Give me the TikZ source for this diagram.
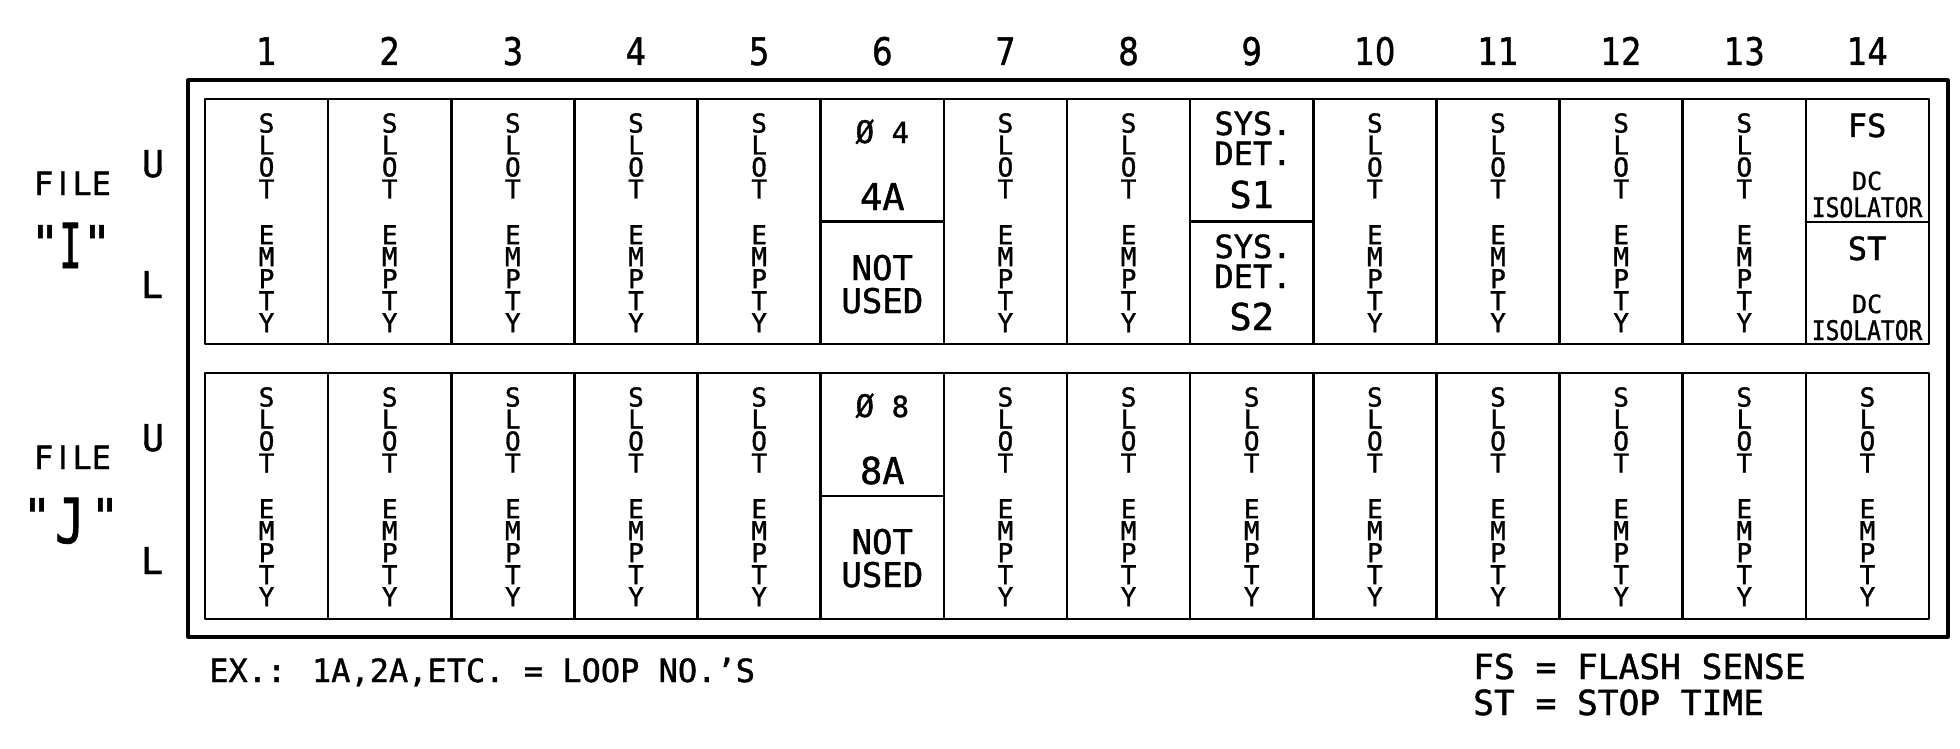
\documentclass[tikz,border=0pt]{standalone}
\usepackage{fontspec}
\setmainfont{DejaVu Sans Mono}[RawFeature={embolden=1.2}]
\newfontfamily\numfont{DejaVu Sans}[RawFeature={embolden=1.2}]
\newfontfamily\qfont{DejaVu Sans Mono}[Ligatures=TeXOff,RawFeature={embolden=1.2}]
\newcommand\sansI{\makebox[0.602em]{\numfont I}}
\begin{document}
\begin{tikzpicture}[x=1pt,y=-1pt,
  frame/.style={line width=3.2pt,line join=round},
  panel/.style={line width=2.8pt,line join=round},
  divider/.style={line width=2.6pt},
  lbl/.style={inner sep=0pt,anchor=base},
  vword/.style={inner sep=0pt,anchor=north,align=center,font=\fontsize{26}{22}\selectfont},
  colnum/.style={lbl,font=\numfont\fontsize{38}{38}\selectfont},
  side/.style={lbl,font=\fontsize{37}{37}\selectfont},
  filetxt/.style={lbl,font=\fontsize{32}{32}\selectfont},
  quote/.style={inner sep=0pt,anchor=north,font=\qfont\fontsize{48}{48}\selectfont},
  bigletter/.style={lbl,font=\fontsize{62}{62}\selectfont},
  midtxt/.style={lbl,font=\fontsize{34}{34}\selectfont},
  systxt/.style={lbl,font=\fontsize{32}{32}\selectfont},
  bigtxt/.style={lbl,font=\fontsize{37}{37}\selectfont},
  phitxt/.style={lbl,font=\fontsize{29}{29}\selectfont},
  fstxt/.style={lbl,font=\fontsize{32}{32}\selectfont},
  dctxt/.style={lbl,font=\fontsize{25}{25}\selectfont},
  isotxt/.style={lbl,font=\fontsize{27}{27}\selectfont},
  legend/.style={inner sep=0pt,anchor=base west,font=\fontsize{32}{32}\selectfont},
  legendr/.style={inner sep=0pt,anchor=base west,font=\fontsize{34.5}{34.5}\selectfont}
]
\useasboundingbox (0,0) rectangle (1960,749);

% frames
\draw[frame] (188,80) rectangle (1948,637);
\draw[panel] (205,99) rectangle (1929,344);
\draw[panel] (205,373) rectangle (1929,619);
\foreach \k in {1,...,13} {
  \draw[divider] ({205+\k*123.143},99) -- ({205+\k*123.143},344);
  \draw[divider] ({205+\k*123.143},373) -- ({205+\k*123.143},619);
}
% split cells
\draw[divider] (820.7,221.5) -- (943.9,221.5);
\draw[divider] (820.7,496) -- (943.9,496);
\draw[divider] (1190.1,221.7) -- (1313.3,221.7);
\draw[divider] (1805.9,222) -- (1929,222);

% column numbers
\foreach \i in {1,...,14}
  \node[colnum] (num\i) at ({205+(\i-0.5)*123.143},65) {\scalebox{0.85}[1]{\i}};

% side labels
\node[filetxt] (fileI) at (72.5,195) {F\sansI LE};
\node[quote] (qIl) at (45,225) {"};
\node[bigletter] (letI) at (70.5,268) {\scalebox{0.6}[1]{I}};
\node[quote] (qIr) at (97,225) {"};
\node[side] (uI) at (153,177) {U};
\node[side] (lI) at (152,298) {L};

\node[filetxt] (fileJ) at (72.5,469) {F\sansI LE};
\node[quote] (qJl) at (37,498) {"};
\node[bigletter] (letJ) at (70,543) {\scalebox{0.8}[1]{J}};
\node[quote] (qJr) at (105,498) {"};
\node[side] (uJ) at (153,451) {U};
\node[side] (lJ) at (152,574) {L};

% SLOT EMPTY stacks, upper panel
\foreach \c in {1,2,3,4,5,7,8,10,11,12,13} {
  \node[vword] (u\c slot) at ({205+(\c-0.5)*123.143},113) {S\\L\\O\\T};
  \node[vword] (u\c empty) at ({205+(\c-0.5)*123.143},225) {E\\M\\P\\T\\Y};
}
% lower panel
\foreach \c in {1,2,3,4,5,7,8,9,10,11,12,13,14} {
  \node[vword] (l\c slot) at ({205+(\c-0.5)*123.143},387) {S\\L\\O\\T};
  \node[vword] (l\c empty) at ({205+(\c-0.5)*123.143},499) {E\\M\\P\\T\\Y};
}

% column 6
\node[phitxt] (phi4) at (882.3,143) {{\fontsize{31}{31}\selectfont Ø} 4};
\node[bigtxt] (a4) at (882.3,210) {4A};
\node[midtxt] (nu1) at (882.3,280) {NOT};
\node[midtxt] (nu2) at (882.3,313) {USED};
\node[phitxt] (phi8) at (882.3,417) {{\fontsize{31}{31}\selectfont Ø} 8};
\node[bigtxt] (a8) at (882.3,484) {8A};
\node[midtxt] (nu3) at (882.3,554) {NOT};
\node[midtxt] (nu4) at (882.3,587) {USED};

% column 9
\node[systxt] (sys1) at (1253,135) {SYS.};
\node[systxt] (det1) at (1253,165) {DET.};
\node[bigtxt] (s1) at (1251.7,208) {S1};
\node[systxt] (sys2) at (1253,258) {SYS.};
\node[systxt] (det2) at (1253,288) {DET.};
\node[bigtxt] (s2) at (1251.7,330) {S2};

% column 14
\node[fstxt] (fs) at (1867.1,137) {FS};
\node[dctxt] (dc1) at (1867.1,190) {DC};
\node[isotxt] (iso1) at (1867.1,217) {\scalebox{0.85}[1]{ISOLATOR}};
\node[fstxt] (st) at (1867.1,260) {ST};
\node[dctxt] (dc2) at (1867.1,313) {DC};
\node[isotxt] (iso2) at (1867.1,340) {\scalebox{0.85}[1]{ISOLATOR}};

% legends
\node[legend] (ex) at (209,682) {EX.: 1A,2A,ETC. = LOOP NO.'S};
\node[legendr] (fsl) at (1473,679) {FS = FLASH SENSE};
\node[legendr] (stl) at (1473,715) {ST = STOP TIME};
\end{tikzpicture}
\end{document}
